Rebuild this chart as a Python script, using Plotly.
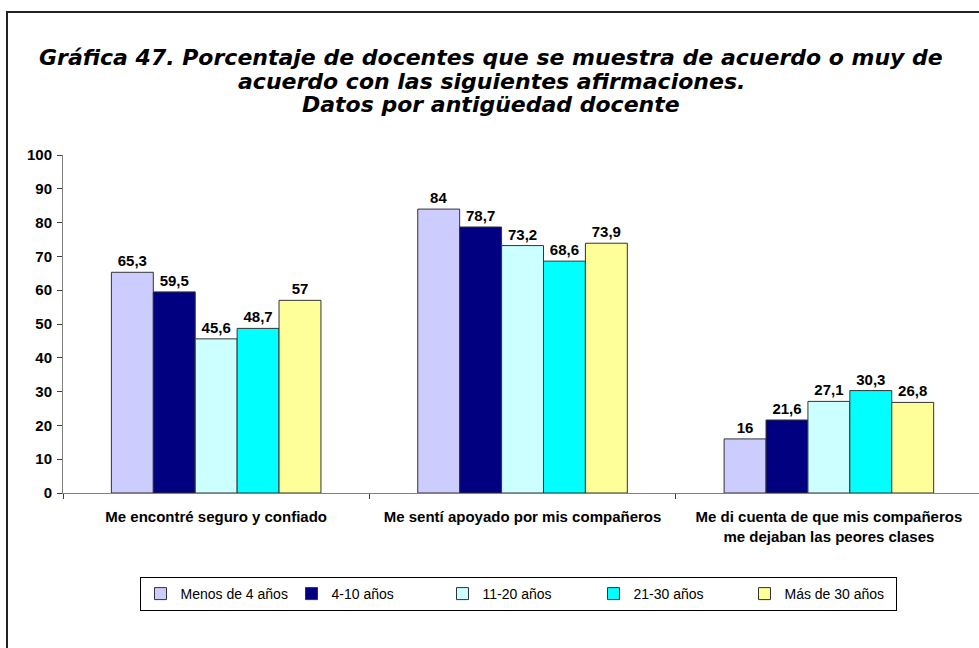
import plotly.graph_objects as go

# Survey statements (x categories)
categories = [
    "Me encontré seguro y confiado",
    "Me sentí apoyado por mis compañeros",
    "Me di cuenta de que mis compañeros<br>me dejaban las peores clases",
]

# Percentages by teaching seniority
series_names = ["Menos de 4 años", "4-10 años", "11-20 años", "21-30 años", "Más de 30 años"]
menos_4 = [65.3, 84, 16]
de_4_10 = [59.5, 78.7, 21.6]
de_11_20 = [45.6, 73.2, 27.1]
de_21_30 = [48.7, 68.6, 30.3]
mas_30 = [57, 73.9, 26.8]
series_values = [menos_4, de_4_10, de_11_20, de_21_30, mas_30]

colors = ["#CCCCFF", "#000080", "#CCFFFF", "#00FFFF", "#FFFF99"]

y_ticks = list(range(0, 101, 10))

title_lines = [
    "Gráfica 47. Porcentaje de docentes que se muestra de acuerdo o muy de",
    "acuerdo con las siguientes afirmaciones.",
    "Datos por antigüedad docente",
]

ARIAL = "Liberation Sans, Arial, sans-serif"
TITLE_FONT = dict(family="DejaVu Sans, Verdana, sans-serif", size=22, color="black",
                  weight="bold", style="italic")


def fmt(v):
    return f"{v:g}".replace(".", ",")


fig = go.Figure()
for name, vals, col in zip(series_names, series_values, colors):
    fig.add_trace(go.Bar(
        name=name,
        x=categories,
        y=vals,
        marker=dict(color=col, line=dict(color="#333333", width=1)),
        text=[fmt(v) for v in vals],
        textposition="outside",
        textfont=dict(family=ARIAL, size=15, color="black", weight="bold"),
        cliponaxis=False,
    ))

# plot area in pixels: x 63..979, y 155..493
L, T, B = 63, 155, 155
W, H = 979, 648
pw, ph = W - L, H - T - B


def px_x(x):
    return (x - L) / pw


def px_y(y):
    return (H - B - y) / ph


annotations = []
for line, yc in zip(title_lines, [58, 81, 104]):
    annotations.append(dict(
        text=line, xref="paper", yref="paper",
        x=px_x(491), y=px_y(yc), xanchor="center", yanchor="middle",
        showarrow=False, font=TITLE_FONT,
    ))

fig.update_layout(
    width=W, height=H,
    margin=dict(l=L, r=0, t=T, b=B, pad=0),
    paper_bgcolor="white",
    plot_bgcolor="white",
    barmode="group",
    bargap=0.316,
    bargroupgap=0,
    font=dict(family=ARIAL, color="black"),
    annotations=annotations,
    xaxis=dict(
        type="category",
        range=[-0.5, 2.49],
        showline=True, linecolor="#808080", linewidth=1,
        ticks="outside", tickson="boundaries", ticklen=5, tickcolor="#404040",
        tickfont=dict(family=ARIAL, size=15, color="black", weight="bold"),
        ticklabelstandoff=10,
        showgrid=False, zeroline=False,
    ),
    yaxis=dict(
        range=[0, 100],
        tickvals=y_ticks,
        showline=True, linecolor="#808080", linewidth=1,
        ticks="outside", ticklen=5, tickcolor="#404040",
        tickfont=dict(family=ARIAL, size=15, color="black", weight="bold"),
        ticklabelstandoff=2,
        showgrid=False, zeroline=False,
    ),
    legend=dict(
        orientation="h",
        x=px_x(518), xanchor="center",
        y=px_y(577), yanchor="top",
        bordercolor="black", borderwidth=1,
        font=dict(family=ARIAL, size=14, color="black"),
        entrywidth=106, entrywidthmode="pixels",
        traceorder="normal",
    ),
    shapes=[dict(
        type="rect", xref="paper", yref="paper",
        x0=px_x(7), x1=px_x(1000), y0=px_y(700), y1=px_y(12),
        line=dict(color="#222222", width=2),
        fillcolor="rgba(0,0,0,0)",
        layer="above",
    )],
)

fig.write_html("out.html")
